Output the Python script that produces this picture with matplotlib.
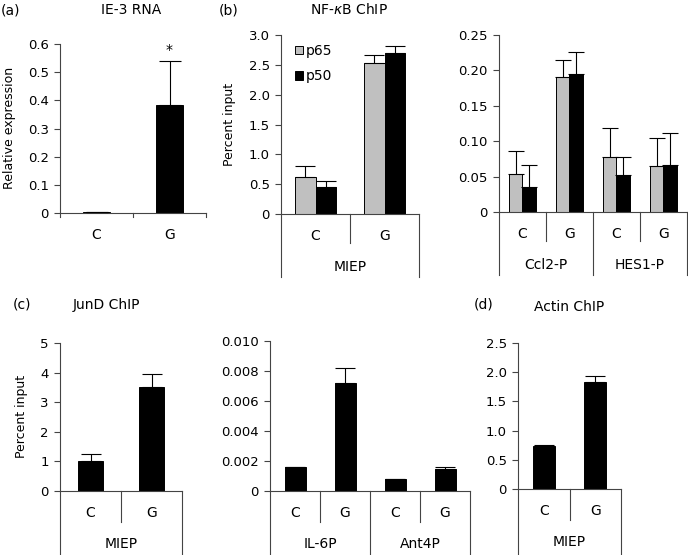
import matplotlib
matplotlib.use("Agg")

import matplotlib.pyplot as plt
from matplotlib.patches import Patch

# ------------------------------------------------------------
# DATA
# ------------------------------------------------------------
a_cats = ["C", "G"]
a_vals = [0.004, 0.385]
a_err = [0.001, 0.155]
a_ticks = [0, 0.1, 0.2, 0.3, 0.4, 0.5, 0.6]
a_ticklabels = ["0", "0.1", "0.2", "0.3", "0.4", "0.5", "0.6"]

series = ["p65", "p50"]

b1_cats = ["C", "G"]
b1_groups = ["MIEP"]
b1_p65 = [0.62, 2.53]
b1_p65_err = [0.19, 0.14]
b1_p50 = [0.46, 2.69]
b1_p50_err = [0.09, 0.12]
b1_ticks = [0, 0.5, 1.0, 1.5, 2.0, 2.5, 3.0]
b1_ticklabels = ["0", "0.5", "1.0", "1.5", "2.0", "2.5", "3.0"]

b2_cats = ["C", "G", "C", "G"]
b2_groups = ["Ccl2-P", "HES1-P"]
b2_p65 = [0.054, 0.190, 0.077, 0.065]
b2_p65_err = [0.032, 0.025, 0.042, 0.039]
b2_p50 = [0.036, 0.195, 0.052, 0.067]
b2_p50_err = [0.030, 0.031, 0.026, 0.044]
b2_ticks = [0, 0.05, 0.10, 0.15, 0.20, 0.25]
b2_ticklabels = ["0", "0.05", "0.10", "0.15", "0.20", "0.25"]

c1_cats = ["C", "G"]
c1_groups = ["MIEP"]
c1_vals = [1.03, 3.52]
c1_err = [0.23, 0.43]
c1_ticks = [0, 1, 2, 3, 4, 5]
c1_ticklabels = ["0", "1", "2", "3", "4", "5"]

c2_cats = ["C", "G", "C", "G"]
c2_groups = ["IL-6P", "Ant4P"]
c2_vals = [0.0016, 0.0072, 0.0008, 0.0015]
c2_err = [0.0, 0.0010, 0.0, 0.00008]
c2_ticks = [0, 0.002, 0.004, 0.006, 0.008, 0.010]
c2_ticklabels = ["0", "0.002", "0.004", "0.006", "0.008", "0.010"]

d_cats = ["C", "G"]
d_groups = ["MIEP"]
d_vals = [0.73, 1.83]
d_err = [0.03, 0.10]
d_ticks = [0, 0.5, 1.0, 1.5, 2.0, 2.5]
d_ticklabels = ["0", "0.5", "1.0", "1.5", "2.0", "2.5"]

# ------------------------------------------------------------
# STYLE
# ------------------------------------------------------------
W, H = 688, 555
LINE = "#444444"
GRAY = "#c0c0c0"
plt.rcParams["font.family"] = ["DejaVu Sans"]
plt.rcParams["font.size"] = 9

fig = plt.figure(figsize=(W / 100, H / 100), dpi=100)


def make_axes(x0, y0, x1, y1, ticks, ticklabels):
    # pixel box -> figure fraction
    ax = fig.add_axes([x0 / W, 1 - y1 / H, (x1 - x0) / W, (y1 - y0) / H])
    ax.spines["top"].set_visible(False)
    ax.spines["right"].set_visible(False)
    for s in ("left", "bottom"):
        ax.spines[s].set_color(LINE)
        ax.spines[s].set_linewidth(0.8)
    ax.set_ylim(ticks[0], ticks[-1])
    ax.set_yticks(ticks)
    ax.set_yticklabels(ticklabels, fontsize=9.5)
    ax.tick_params(axis="y", direction="out", length=4, width=0.8,
                   color=LINE, pad=4)
    ax.set_xticks([])
    ax.hpx = y1 - y0
    return ax


def category_box(ax, cats, groups, short, tall):
    n = len(cats)
    ax.set_xlim(-0.5, n - 0.5)
    tr = ax.get_xaxis_transform()
    h = ax.hpx
    for i, c in enumerate(cats):
        ax.text(i, -22 / h, c, transform=tr, ha="center", va="center",
                fontsize=10)
    for k in range(n + 1):
        depth = tall if (groups and k % 2 == 0) else short
        ax.plot([k - 0.5, k - 0.5], [0, -depth / h], transform=tr,
                clip_on=False, color=LINE, lw=0.8)
    for j, g in enumerate(groups):
        ax.text(2 * j + 0.5, -53 / h, g, transform=tr, ha="center",
                va="center", fontsize=10)


def bars(ax, xs, vals, errs, width, color, capsize):
    ax.bar(xs, vals, width=width, color=color, edgecolor="black",
           linewidth=0.7, zorder=2)
    ax.errorbar(xs, vals, yerr=[[0] * len(errs), errs], fmt="none",
                ecolor="black", elinewidth=0.8, capsize=capsize,
                capthick=0.8, zorder=3)


# ------------------------------------------------------------
# (a) IE-3 RNA
# ------------------------------------------------------------
ax = make_axes(60, 44, 206, 213, a_ticks, a_ticklabels)
category_box(ax, a_cats, [], 4, 4)
bars(ax, range(len(a_cats)), a_vals, a_err, 0.38, "black", 8)
ax.text(1, a_vals[1] + a_err[1] + 0.015, "*", ha="center", va="bottom",
        fontsize=10)
fig.text(131 / W, 1 - 10 / H, "IE-3 RNA", ha="center", va="center",
         fontsize=10)
fig.text(10 / W, 1 - 10 / H, "(a)", ha="center", va="center", fontsize=10)
fig.text(10 / W, 1 - 128 / H, "Relative expression", rotation=90,
         ha="center", va="center", fontsize=9)

# ------------------------------------------------------------
# (b) NF-kB ChIP, MIEP
# ------------------------------------------------------------
ax = make_axes(281, 35, 419, 214, b1_ticks, b1_ticklabels)
category_box(ax, b1_cats, b1_groups, 29, 63)
x = list(range(len(b1_cats)))
bars(ax, [i - 0.145 for i in x], b1_p65, b1_p65_err, 0.29, GRAY, 7)
bars(ax, [i + 0.145 for i in x], b1_p50, b1_p50_err, 0.29, "black", 7)
handles = [Patch(facecolor=GRAY, edgecolor="black", linewidth=0.7),
           Patch(facecolor="black", edgecolor="black", linewidth=0.7)]
ax.legend(handles, series, loc="upper left", bbox_to_anchor=(0.1, 0.95),
          frameon=False, fontsize=10, handlelength=0.6, handleheight=0.6,
          handletextpad=0.2, labelspacing=0.8, borderpad=0,
          borderaxespad=0)
fig.text(229 / W, 1 - 10 / H, "(b)", ha="center", va="center", fontsize=10)
fig.text(310 / W, 1 - 10 / H, "NF-$\\kappa$B ChIP", ha="left", va="center",
         fontsize=10)
fig.text(230 / W, 1 - 124 / H, "Percent input", rotation=90,
         ha="center", va="center", fontsize=9)

# ------------------------------------------------------------
# (b) NF-kB ChIP, Ccl2-P / HES1-P
# ------------------------------------------------------------
ax = make_axes(499, 35, 687, 212, b2_ticks, b2_ticklabels)
category_box(ax, b2_cats, b2_groups, 29, 63)
x = list(range(len(b2_cats)))
bars(ax, [i - 0.145 for i in x], b2_p65, b2_p65_err, 0.29, GRAY, 6)
bars(ax, [i + 0.145 for i in x], b2_p50, b2_p50_err, 0.29, "black", 6)

# ------------------------------------------------------------
# (c) JunD ChIP
# ------------------------------------------------------------
ax = make_axes(60, 343, 182, 491, c1_ticks, c1_ticklabels)
category_box(ax, c1_cats, c1_groups, 31, 70)
bars(ax, range(len(c1_cats)), c1_vals, c1_err, 0.4, "black", 7)
fig.text(22 / W, 1 - 305 / H, "(c)", ha="center", va="center", fontsize=10)
fig.text(106 / W, 1 - 305 / H, "JunD ChIP", ha="center", va="center",
         fontsize=10)
fig.text(22 / W, 1 - 416 / H, "Percent input", rotation=90,
         ha="center", va="center", fontsize=9)

ax = make_axes(270, 341, 470, 491, c2_ticks, c2_ticklabels)
category_box(ax, c2_cats, c2_groups, 31, 70)
bars(ax, range(len(c2_cats)), c2_vals, c2_err, 0.42, "black", 7)

# ------------------------------------------------------------
# (d) Actin ChIP
# ------------------------------------------------------------
ax = make_axes(518, 343, 621, 489, d_ticks, d_ticklabels)
category_box(ax, d_cats, d_groups, 31, 70)
bars(ax, range(len(d_cats)), d_vals, d_err, 0.43, "black", 7)
fig.text(484 / W, 1 - 305 / H, "(d)", ha="center", va="center", fontsize=10)
fig.text(569 / W, 1 - 307 / H, "Actin ChIP", ha="center", va="center",
         fontsize=10)

fig.savefig("out.png", dpi=100)
